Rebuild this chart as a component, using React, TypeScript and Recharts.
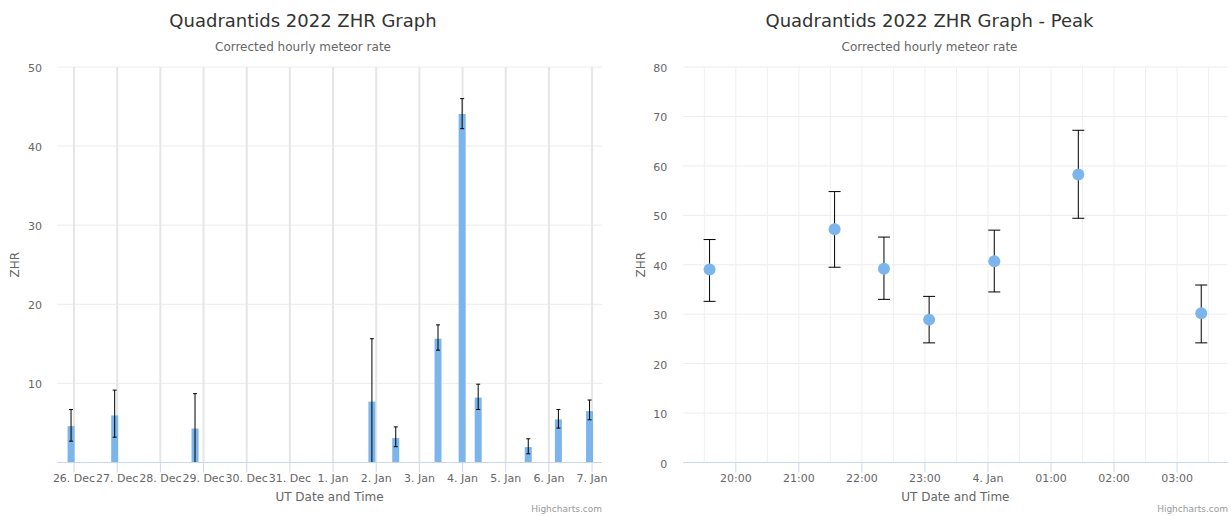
import { ComposedChart, Bar, Scatter, XAxis, YAxis, CartesianGrid, ErrorBar } from 'recharts';

// Daily ZHR (left chart), times in UT
const dailyTimes = [
  '2021-12-25T22:05Z', '2021-12-26T22:20Z', '2021-12-28T19:00Z', '2022-01-01T21:20Z',
  '2022-01-02T10:35Z', '2022-01-03T10:05Z', '2022-01-03T23:30Z', '2022-01-04T08:25Z',
  '2022-01-05T12:15Z', '2022-01-06T05:00Z', '2022-01-06T22:20Z',
];
const dailyZhr = [4.6, 5.95, 4.3, 7.7, 3.1, 15.65, 44.05, 8.2, 1.95, 5.45, 6.5];
const dailyLow = [2.7, 3.2, 0, 0, 2.0, 14.2, 42.2, 6.7, 1.1, 4.35, 5.4];
const dailyHigh = [6.7, 9.15, 8.7, 15.65, 4.5, 17.4, 46.0, 9.9, 3.0, 6.7, 7.9];
const dailyTickLabels = [
  '26. Dec', '27. Dec', '28. Dec', '29. Dec', '30. Dec', '31. Dec', '1. Jan',
  '2. Jan', '3. Jan', '4. Jan', '5. Jan', '6. Jan', '7. Jan',
];
const dailyYTicks = [0, 10, 20, 30, 40, 50];

// Peak night (right chart)
const peakTimes = [
  '2022-01-03T19:35Z', '2022-01-03T21:34Z', '2022-01-03T22:21Z', '2022-01-03T23:04Z',
  '2022-01-04T00:06Z', '2022-01-04T01:26Z', '2022-01-04T03:23Z',
];
const peakZhr = [39.05, 47.2, 39.2, 28.9, 40.7, 58.25, 30.2];
const peakLow = [32.6, 39.5, 33.0, 24.2, 34.5, 49.4, 24.2];
const peakHigh = [45.1, 54.8, 45.6, 33.6, 47.0, 67.2, 35.9];
const peakTickLabels = ['20:00', '21:00', '22:00', '23:00', '4. Jan', '01:00', '02:00', '03:00'];
const peakYTicks = [0, 10, 20, 30, 40, 50, 60, 70, 80];

const dailyTicks = dailyTickLabels.map((_, i) => Date.UTC(2021, 11, 26 + i));
const peakTicks = peakTickLabels.map((_, i) => Date.UTC(2022, 0, 3, 20 + i));
const peakGrid = Array.from({ length: 17 }, (_, i) => Date.UTC(2022, 0, 3, 19, 30 + i * 30));
const peakDomain = [Date.UTC(2022, 0, 3, 19, 10), Date.UTC(2022, 0, 4, 3, 48)];

const dailyData = dailyTimes.map((t, i) => ({
  t: Date.parse(t),
  zhr: dailyZhr[i],
  err: [dailyZhr[i] - dailyLow[i], dailyHigh[i] - dailyZhr[i]],
}));
const peakData = peakTimes.map((t, i) => ({
  t: Date.parse(t),
  zhr: peakZhr[i],
  err: [peakZhr[i] - peakLow[i], peakHigh[i] - peakZhr[i]],
}));

const BLUE = '#7cb5ec';
const AXIS = '#ccd6eb';
const LABEL = '#666666';

const makeYTick = (hideZero: boolean) => (props: any) => {
  const { x, y, payload } = props;
  if (hideZero && payload.value === 0) return <g />;
  return (
    <text x={x} y={y + 5} textAnchor="end" fill={LABEL} fontSize={11}>
      {payload.value}
    </text>
  );
};

const xTitle = (props: any) => {
  const vb = props.viewBox;
  return (
    <text x={vb.x + vb.width / 2} y={vb.y + 38} textAnchor="middle" fill={LABEL} fontSize={12}>
      UT Date and Time
    </text>
  );
};

const yTitle = (dx: number) => (props: any) => {
  const vb = props.viewBox;
  const cx = vb.x + dx;
  const cy = vb.y + vb.height / 2;
  return (
    <text
      x={cx}
      y={cy}
      transform={`rotate(-90 ${cx} ${cy})`}
      textAnchor="middle"
      dominantBaseline="central"
      fill={LABEL}
      fontSize={12}
    >
      ZHR
    </text>
  );
};

function Header({ title, center }: { title: string; center: number }) {
  return (
    <>
      <div style={{ position: 'absolute', top: 12, left: center - 300, width: 600, textAlign: 'center', fontSize: 18, lineHeight: '18px', color: '#333333' }}>
        {title}
      </div>
      <div style={{ position: 'absolute', top: 41, left: center - 300, width: 600, textAlign: 'center', fontSize: 12, lineHeight: '12px', color: LABEL }}>
        Corrected hourly meteor rate
      </div>
    </>
  );
}

function Credits() {
  return (
    <div style={{ position: 'absolute', top: 505, right: 10, fontSize: 9, lineHeight: '9px', color: '#999999' }}>
      Highcharts.com
    </div>
  );
}

function DailyChart() {
  return (
    <div style={{ position: 'absolute', left: 0, top: 0, width: 612, height: 516 }}>
      <ComposedChart width={612} height={516} data={dailyData} margin={{ top: 67, right: 10, bottom: 23.5, left: 10 }}>
        <CartesianGrid vertical={false} stroke="#ececec" syncWithTicks />
        <CartesianGrid horizontal={false} stroke="#e6e6e6" strokeWidth={2} syncWithTicks />
        <XAxis
          dataKey="t"
          type="number"
          domain={[Date.UTC(2021, 11, 25, 14, 32), Date.UTC(2022, 0, 7, 5, 31)]}
          allowDataOverflow
          ticks={dailyTicks}
          interval={0}
          tickFormatter={(v: number) => dailyTickLabels[dailyTicks.indexOf(v)] ?? ''}
          tick={{ fill: LABEL, fontSize: 11 }}
          tickSize={10}
          tickMargin={2}
          axisLine={{ stroke: AXIS }}
          tickLine={{ stroke: AXIS }}
          height={30}
          label={xTitle}
        />
        <YAxis
          domain={[0, 50]}
          ticks={dailyYTicks}
          interval={0}
          width={47}
          axisLine={false}
          tickLine={false}
          tickSize={0}
          tickMargin={15}
          tick={makeYTick(true)}
          label={yTitle(5)}
        />
        <Bar dataKey="zhr" fill={BLUE} barSize={7} isAnimationActive={false}>
          <ErrorBar dataKey="err" direction="y" width={2} stroke="#000" strokeWidth={1} isAnimationActive={false} />
        </Bar>
      </ComposedChart>
      <Header title="Quadrantids 2022 ZHR Graph" center={303} />
      <Credits />
    </div>
  );
}

function PeakChart() {
  return (
    <div style={{ position: 'absolute', left: 620, top: 0, width: 618, height: 516 }}>
      <ComposedChart width={618} height={516} data={peakData} margin={{ top: 67, right: 10.5, bottom: 23.5, left: 10 }}>
        <CartesianGrid vertical={false} stroke="#ececec" syncWithTicks />
        <CartesianGrid horizontal={false} xAxisId="grid" stroke="#efefef" syncWithTicks />
        <XAxis
          xAxisId="grid"
          dataKey="t"
          type="number"
          domain={peakDomain}
          allowDataOverflow
          ticks={peakGrid}
          interval={0}
          hide
        />
        <XAxis
          dataKey="t"
          type="number"
          domain={peakDomain}
          allowDataOverflow
          ticks={peakTicks}
          interval={0}
          tickFormatter={(v: number) => peakTickLabels[peakTicks.indexOf(v)] ?? ''}
          tick={{ fill: LABEL, fontSize: 11 }}
          tickSize={10}
          tickMargin={2}
          axisLine={{ stroke: AXIS }}
          tickLine={{ stroke: AXIS }}
          height={30}
          label={xTitle}
        />
        <YAxis
          dataKey="zhr"
          domain={[0, 80]}
          ticks={peakYTicks}
          interval={0}
          width={53.3}
          axisLine={false}
          tickLine={false}
          tickSize={0}
          tickMargin={16}
          tick={makeYTick(false)}
          label={yTitle(11)}
        />
        <Scatter
          dataKey="zhr"
          isAnimationActive={false}
          shape={(p: any) => <circle cx={p.cx} cy={p.cy} r={6} fill={BLUE} />}
        >
          <ErrorBar dataKey="err" direction="y" width={6} stroke="#000" strokeWidth={1} isAnimationActive={false} />
        </Scatter>
      </ComposedChart>
      <Header title="Quadrantids 2022 ZHR Graph - Peak" center={309.5} />
      <Credits />
    </div>
  );
}

export default function App() {
  return (
    <div style={{ position: 'absolute', left: 0, top: 0, width: 1231, height: 516, overflow: 'hidden', background: '#fff', fontFamily: '"DejaVu Sans", Verdana, sans-serif' }}>
      <DailyChart />
      <PeakChart />
    </div>
  );
}
